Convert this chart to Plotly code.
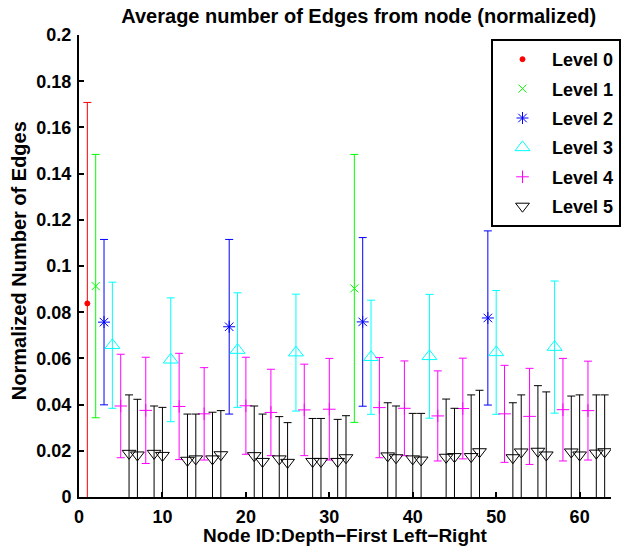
import plotly.graph_objects as go

# ---- data ----
level0_x = [1]
level0_mean = [0.0838]
level0_err = [0.0870]

level1_x = [2, 33]
level1_mean = [0.0913, 0.0903]
level1_err = [0.0570, 0.0580]

level2_x = [3, 18, 34, 49]
level2_mean = [0.0757, 0.0737, 0.0758, 0.0775]
level2_err = [0.0358, 0.0378, 0.0365, 0.0377]

level3_x = [4, 11, 19, 26, 35, 42, 50, 57]
level3_mean = [0.0657, 0.0594, 0.0636, 0.0625, 0.0605, 0.0609, 0.0626, 0.0649]
level3_err = [0.0273, 0.0268, 0.0248, 0.0253, 0.0247, 0.0268, 0.0268, 0.0286]

level4_x = [5, 8, 12, 15, 20, 23, 27, 30, 36, 39, 43, 46, 51, 54, 58, 61]
level4_mean = [0.0394, 0.0375, 0.0392, 0.0360, 0.0395, 0.0366, 0.0377, 0.0380,
               0.0387, 0.0384, 0.0351, 0.0383, 0.0360, 0.0349, 0.0378, 0.0374]
level4_err = [0.0224, 0.0230, 0.0230, 0.0200, 0.0210, 0.0187, 0.0198, 0.0220,
              0.0217, 0.0205, 0.0195, 0.0218, 0.0210, 0.0208, 0.0222, 0.0214]

level5_x = [6, 7, 9, 10, 13, 14, 16, 17, 21, 22, 24, 25, 28, 29, 31, 32,
            37, 38, 40, 41, 44, 45, 47, 48, 52, 53, 55, 56, 59, 60, 62, 63]
level5_mean = [0.0189, 0.0182, 0.0189, 0.0180, 0.0159, 0.0165, 0.0165, 0.0183,
               0.0179, 0.0154, 0.0165, 0.0150, 0.0154, 0.0154, 0.0154, 0.0170,
               0.0178, 0.0170, 0.0165, 0.0160, 0.0172, 0.0175, 0.0175, 0.0196,
               0.0170, 0.0195, 0.0198, 0.0182, 0.0195, 0.0182, 0.0190, 0.0196]
level5_err = [0.0253, 0.0241, 0.0205, 0.0208, 0.0200, 0.0194, 0.0202, 0.0191,
              0.0215, 0.0205, 0.0183, 0.0172, 0.0186, 0.0186, 0.0182, 0.0182,
              0.0230, 0.0224, 0.0197, 0.0202, 0.0252, 0.0209, 0.0267, 0.0266,
              0.0238, 0.0247, 0.0284, 0.0273, 0.0242, 0.0260, 0.0252, 0.0246]

series_names = ["Level 0", "Level 1", "Level 2", "Level 3", "Level 4", "Level 5"]
y_tick_vals = [0, 0.02, 0.04, 0.06, 0.08, 0.1, 0.12, 0.14, 0.16, 0.18, 0.2]
y_tick_text = ["0", "0.02", "0.04", "0.06", "0.08", "0.1", "0.12", "0.14", "0.16", "0.18", "0.2"]
x_tick_vals = [0, 10, 20, 30, 40, 50, 60]

FONT = "Liberation Sans, Arial, Helvetica, sans-serif"

styles = [
    dict(color="#ff0000", symbol="circle", size=5),
    dict(color="#00ff00", symbol="x-thin-open", size=8),
    dict(color="#0000ff", symbol="asterisk-open", size=10),
    dict(color="#00ffff", symbol="triangle-up-open", size=13),
    dict(color="#ff00ff", symbol="cross-thin-open", size=9),
    dict(color="#000000", symbol="triangle-down-open", size=12),
]

data = [
    (level0_x, level0_mean, level0_err),
    (level1_x, level1_mean, level1_err),
    (level2_x, level2_mean, level2_err),
    (level3_x, level3_mean, level3_err),
    (level4_x, level4_mean, level4_err),
    (level5_x, level5_mean, level5_err),
]

fig = go.Figure()
for name, (xs, ys, es), st in zip(series_names, data, styles):
    fig.add_trace(go.Scatter(
        x=xs, y=ys, mode="markers", name=name, legendgroup=name,
        marker=dict(color=st["color"], symbol=st["symbol"], size=st["size"],
                    line=dict(color=st["color"], width=1)),
        error_y=dict(type="data", array=es, visible=True, color=st["color"],
                     thickness=1, width=4),
    ))

fig.update_layout(
    width=621, height=548,
    margin=dict(l=79, r=0, t=35, b=51),
    paper_bgcolor="white", plot_bgcolor="white",
    font=dict(family=FONT, size=18, color="black", weight="bold"),
    title=dict(text="Average number of Edges from node (normalized)",
               x=(364 - 79) / 542, xref="paper", xanchor="center",
               y=1 - 16 / 548, yref="container", yanchor="middle",
               font=dict(family=FONT, size=20, color="black", weight="bold")),
    showlegend=True,
    legend=dict(x=(499 - 79) / 542, y=1 - (39 - 35) / 462, xanchor="left", yanchor="top",
                bgcolor="white", bordercolor="black", borderwidth=2,
                font=dict(family=FONT, size=18, color="black", weight="bold"),
                tracegroupgap=3, itemwidth=49, traceorder="grouped"),
    xaxis=dict(range=[0, 63.76], tickvals=x_tick_vals, ticks="inside", ticklen=5,
               tickwidth=2, tickcolor="black", showline=True, linecolor="black",
               linewidth=2, showgrid=False, zeroline=False, mirror=False,
               ticklabelstandoff=2,
               tickfont=dict(family=FONT, size=18, color="black", weight="bold")),
    yaxis=dict(range=[0, 0.2], tickvals=y_tick_vals, ticktext=y_tick_text,
               ticks="inside", ticklen=5, tickwidth=2, tickcolor="black",
               showline=True, linecolor="black", linewidth=2, showgrid=False,
               zeroline=False, mirror=False, ticklabelstandoff=2,
               tickfont=dict(family=FONT, size=18, color="black", weight="bold")),
    annotations=[
        dict(text="Node ID:Depth\u2212First Left\u2212Right", xref="paper", yref="paper",
             x=(351 - 79) / 542, y=(497 - 535) / 462, xanchor="center", yanchor="middle",
             showarrow=False, font=dict(family=FONT, size=19, color="black", weight="bold")),
        dict(text="Normalized Number of Edges", xref="paper", yref="paper",
             x=(18 - 79) / 542, y=(497 - 261) / 462, xanchor="center", yanchor="middle",
             textangle=-90, showarrow=False,
             font=dict(family=FONT, size=20, color="black", weight="bold")),
    ],
)

fig.write_html("out.html",
               config={"displayModeBar": False},
               post_script="document.body.style.margin='0';document.body.style.overflow='hidden';")
